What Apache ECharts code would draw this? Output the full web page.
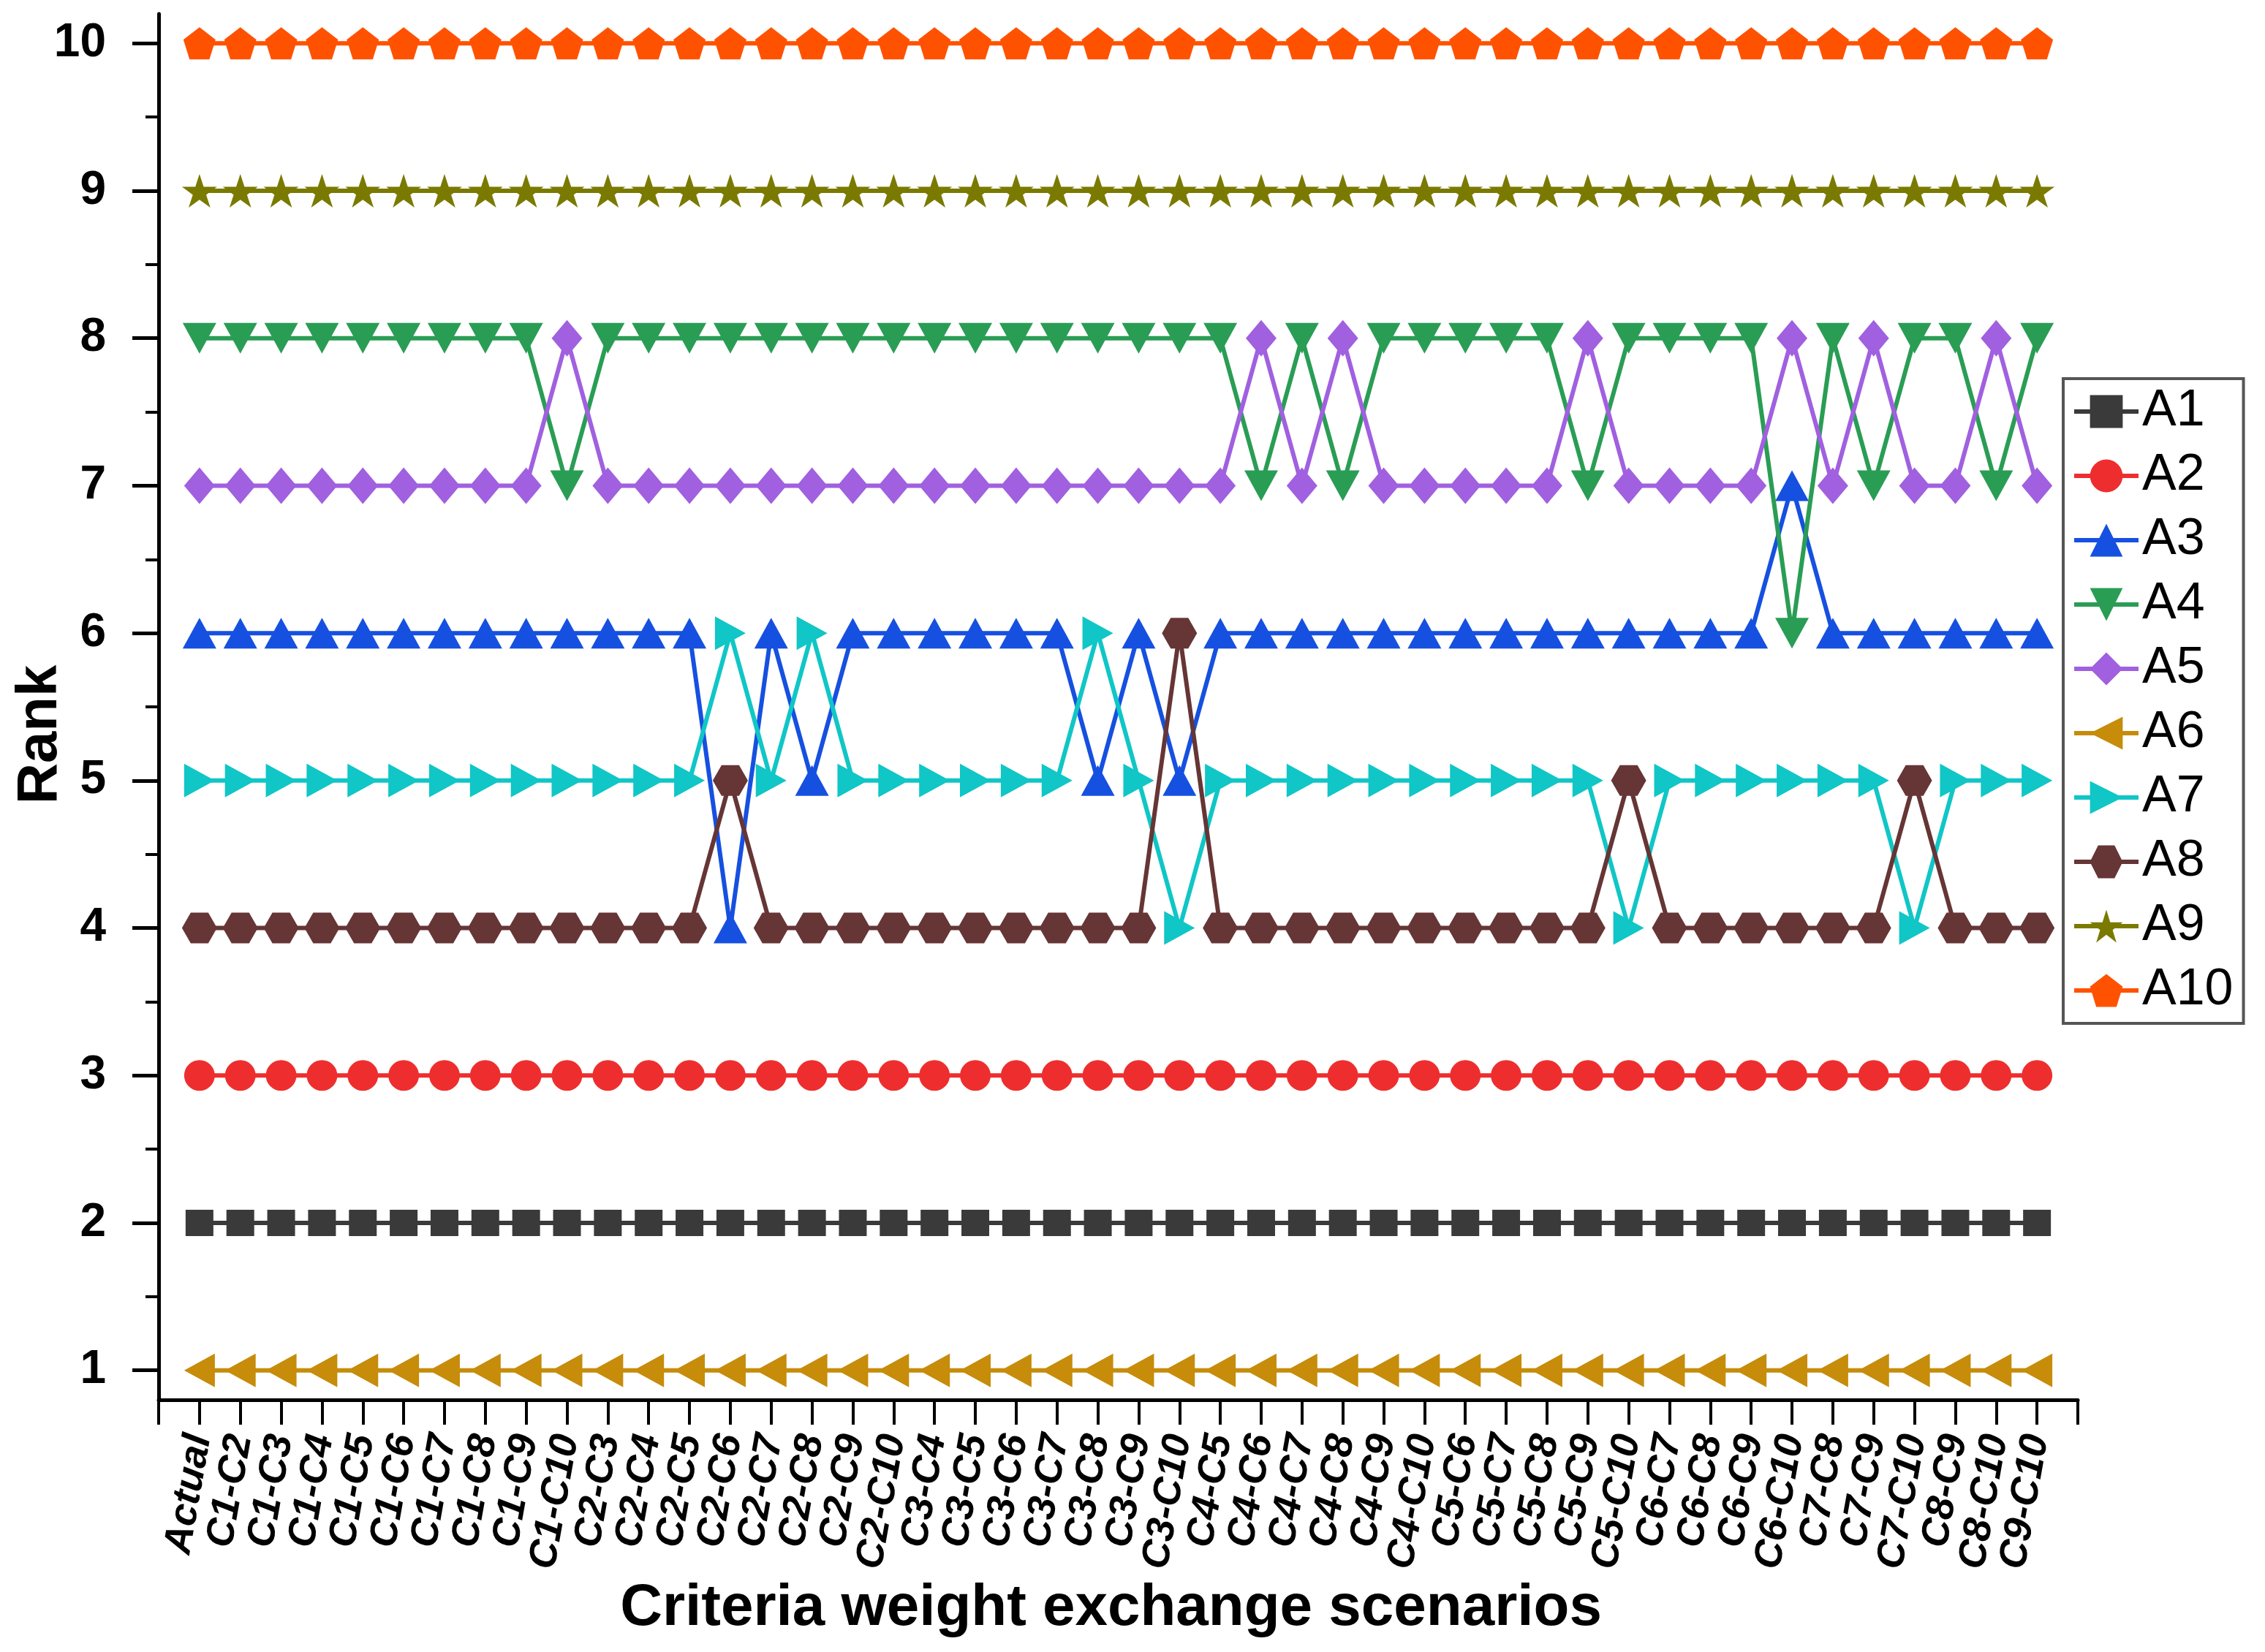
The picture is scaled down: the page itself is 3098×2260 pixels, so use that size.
<!DOCTYPE html>
<html>
<head>
<meta charset="utf-8">
<style>
  html, body { margin: 0; padding: 0; background: #ffffff; }
  #chart { width: 3098px; height: 2260px; }
</style>
<script src="https://cdn.jsdelivr.net/npm/echarts@6/dist/echarts.min.js"></script>
</head>
<body>
<div id="chart"></div>
<script>
// ---- Data ----
const categories = ['Actual',
  'C1-C2','C1-C3','C1-C4','C1-C5','C1-C6','C1-C7','C1-C8','C1-C9','C1-C10',
  'C2-C3','C2-C4','C2-C5','C2-C6','C2-C7','C2-C8','C2-C9','C2-C10',
  'C3-C4','C3-C5','C3-C6','C3-C7','C3-C8','C3-C9','C3-C10',
  'C4-C5','C4-C6','C4-C7','C4-C8','C4-C9','C4-C10',
  'C5-C6','C5-C7','C5-C8','C5-C9','C5-C10',
  'C6-C7','C6-C8','C6-C9','C6-C10',
  'C7-C8','C7-C9','C7-C10',
  'C8-C9','C8-C10',
  'C9-C10'];

const seriesNames = ['A1','A2','A3','A4','A5','A6','A7','A8','A9','A10'];

const A1 = [2, 2,2,2,2,2,2,2,2,2, 2,2,2,2,2,2,2,2, 2,2,2,2,2,2,2, 2,2,2,2,2,2, 2,2,2,2,2, 2,2,2,2, 2,2,2, 2,2, 2];
const A2 = [3, 3,3,3,3,3,3,3,3,3, 3,3,3,3,3,3,3,3, 3,3,3,3,3,3,3, 3,3,3,3,3,3, 3,3,3,3,3, 3,3,3,3, 3,3,3, 3,3, 3];
const A3 = [6, 6,6,6,6,6,6,6,6,6, 6,6,6,4,6,5,6,6, 6,6,6,6,5,6,5, 6,6,6,6,6,6, 6,6,6,6,6, 6,6,6,7, 6,6,6, 6,6, 6];
const A4 = [8, 8,8,8,8,8,8,8,8,7, 8,8,8,8,8,8,8,8, 8,8,8,8,8,8,8, 8,7,8,7,8,8, 8,8,8,7,8, 8,8,8,6, 8,7,8, 8,7, 8];
const A5 = [7, 7,7,7,7,7,7,7,7,8, 7,7,7,7,7,7,7,7, 7,7,7,7,7,7,7, 7,8,7,8,7,7, 7,7,7,8,7, 7,7,7,8, 7,8,7, 7,8, 7];
const A6 = [1, 1,1,1,1,1,1,1,1,1, 1,1,1,1,1,1,1,1, 1,1,1,1,1,1,1, 1,1,1,1,1,1, 1,1,1,1,1, 1,1,1,1, 1,1,1, 1,1, 1];
const A7 = [5, 5,5,5,5,5,5,5,5,5, 5,5,5,6,5,6,5,5, 5,5,5,5,6,5,4, 5,5,5,5,5,5, 5,5,5,5,4, 5,5,5,5, 5,5,4, 5,5, 5];
const A8 = [4, 4,4,4,4,4,4,4,4,4, 4,4,4,5,4,4,4,4, 4,4,4,4,4,4,6, 4,4,4,4,4,4, 4,4,4,4,5, 4,4,4,4, 4,4,5, 4,4, 4];
const A9 = [9, 9,9,9,9,9,9,9,9,9, 9,9,9,9,9,9,9,9, 9,9,9,9,9,9,9, 9,9,9,9,9,9, 9,9,9,9,9, 9,9,9,9, 9,9,9, 9,9, 9];
const A10 = [10, 10,10,10,10,10,10,10,10,10, 10,10,10,10,10,10,10,10, 10,10,10,10,10,10,10, 10,10,10,10,10,10, 10,10,10,10,10, 10,10,10,10, 10,10,10, 10,10, 10];

const yTickValues = [1,2,3,4,5,6,7,8,9,10];
const yMinorTickValues = [1.5,2.5,3.5,4.5,5.5,6.5,7.5,8.5,9.5];

const allValues = [A1, A2, A3, A4, A5, A6, A7, A8, A9, A10];

// ---- Styles ----
const colors = ['#3a3a3a','#ee2e2e','#1650e0','#2a9d55','#a060e0','#c68c0a','#10c6c6','#663535','#7a7a00','#ff5200'];
const HEX = 'path://M-1 0 L-0.5 -0.866 L0.5 -0.866 L1 0 L0.5 0.866 L-0.5 0.866 Z';
const PENT = 'path://M0 -1 L0.951 -0.309 L0.588 0.809 L-0.588 0.809 L-0.951 -0.309 Z';
const STAR = 'path://M0 -1 L0.2245 -0.309 L0.9511 -0.309 L0.3633 0.118 L0.5878 0.809 L0 0.382 L-0.5878 0.809 L-0.3633 0.118 L-0.9511 -0.309 L-0.2245 -0.309 Z';
const symbols = [
  {symbol:'rect', size:[38,36], rotate:0},
  {symbol:'circle', size:42, rotate:0},
  {symbol:'triangle', size:[46,42], rotate:0},
  {symbol:'triangle', size:[46,42], rotate:180},
  {symbol:'diamond', size:[42,50], rotate:0},
  {symbol:'triangle', size:[46,42], rotate:90},
  {symbol:'triangle', size:[46,42], rotate:-90},
  {symbol:HEX, size:[48,42], rotate:0},
  {symbol:STAR, size:[48,46], rotate:0},
  {symbol:PENT, size:[44,44], rotate:0}
];

const FONT = 'Liberation Sans, Arial, sans-serif';

const series = seriesNames.map((name, k) => ({
  name: name,
  type: 'line',
  data: categories.map((c, i) => [i, allValues[k][i]]),
  symbol: symbols[k].symbol,
  symbolSize: symbols[k].size,
  symbolRotate: symbols[k].rotate,
  showAllSymbol: true,
  lineStyle: { color: colors[k], width: 6 },
  itemStyle: { color: colors[k] },
  emphasis: { disabled: true },
  animation: false,
  z: 2 + k
}));

const chart = echarts.init(document.getElementById('chart'), null, { renderer: 'canvas' });
chart.setOption({
  backgroundColor: '#ffffff',
  animation: false,
  grid: { left: 217, right: 256, top: 19, bottom: 345, containLabel: false, outerBoundsMode: 'none' },
  xAxis: {
    type: 'value',
    min: -1,
    max: 46,
    interval: 1,
    name: 'Criteria weight exchange scenarios',
    nameLocation: 'middle',
    nameGap: 246,
    nameTextStyle: { fontFamily: FONT, fontWeight: 'bold', fontSize: 80, color: '#000', padding: [0, 20, 0, 0] },
    axisLine: { show: true, onZero: false, lineStyle: { color: '#000', width: 5 } },
    axisTick: { show: true, inside: false, length: 34, lineStyle: { color: '#000', width: 4 } },
    axisLabel: {
      show: true,
      rotate: 80,
      margin: 48,
      fontFamily: FONT,
      fontWeight: 'bold',
      fontStyle: 'italic',
      fontSize: 54,
      color: '#000',
      customValues: categories.map((c, i) => i),
      formatter: function (v) { return categories[Math.round(v)] || ''; }
    },
    splitLine: { show: false }
  },
  yAxis: [{
    type: 'value',
    min: 0.8,
    max: 10.2,
    name: 'Rank',
    nameLocation: 'middle',
    nameGap: 123,
    nameMoveOverlap: false,
    nameTextStyle: { fontFamily: FONT, fontWeight: 'bold', fontSize: 78, color: '#000', padding: [0, 76, 0, 0] },
    axisLine: { show: true, onZero: false, lineStyle: { color: '#000', width: 5 } },
    axisTick: { show: true, length: 36, lineStyle: { color: '#000', width: 5 }, customValues: yTickValues },
    axisLabel: { show: true, margin: 72, fontFamily: FONT, fontWeight: 'bold', fontSize: 64, color: '#000', customValues: yTickValues },
    splitLine: { show: false }
  }, {
    type: 'value',
    min: 0.8,
    max: 10.2,
    position: 'left',
    offset: 0,
    axisLine: { show: false, onZero: false },
    axisTick: { show: true, length: 18, lineStyle: { color: '#000', width: 4 }, customValues: yMinorTickValues },
    axisLabel: { show: false },
    splitLine: { show: false }
  }],
  legend: {
    show: true,
    orient: 'vertical',
    left: 2822,
    top: 518,
    backgroundColor: '#ffffff',
    borderColor: '#555555',
    borderWidth: 4,
    padding: [10, 14, 10, 12],
    itemWidth: 88,
    itemHeight: 56,
    itemGap: 18,
    lineStyle: { width: 6 },
    textStyle: { fontFamily: FONT, fontSize: 70, color: '#000', lineHeight: 70 },
    data: seriesNames
  },
  series: series
});
</script>
</body>
</html>
